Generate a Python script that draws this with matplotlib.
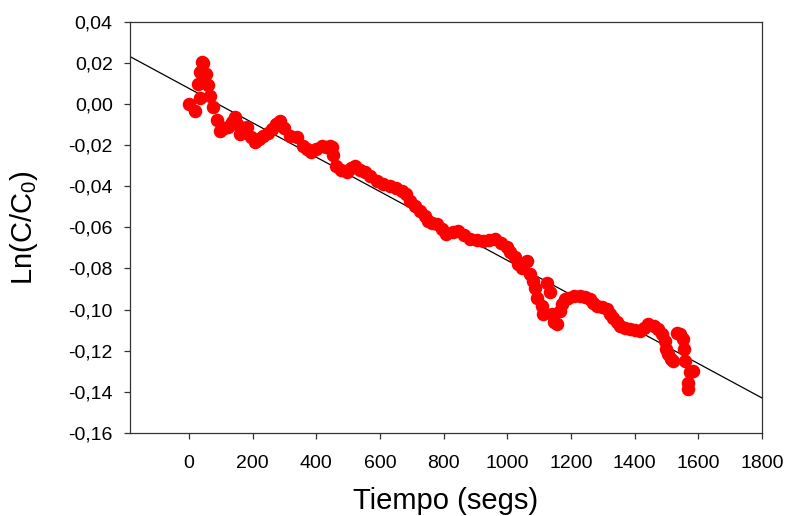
import matplotlib
matplotlib.use("Agg")
import matplotlib.pyplot as plt
from matplotlib.ticker import FuncFormatter, MultipleLocator
import numpy as np

plt.rcParams['font.family'] = ['Liberation Sans', 'DejaVu Sans']
plt.rcParams['mathtext.fontset'] = 'custom'
plt.rcParams['mathtext.rm'] = 'Liberation Sans'
plt.rcParams['mathtext.it'] = 'Liberation Sans'

# datos: tiempo (s) y Ln(C/C0)
tiempo = [0, 19, 29, 35, 35, 40, 45, 55, 60, 66, 76, 87, 97, 110, 124, 135, 145,
          152, 160, 170, 181, 195, 207, 220, 234, 248, 260, 273, 286, 300, 317,
          338, 359, 372, 385, 400, 417, 430, 442, 448, 453, 463, 478, 495, 510,
          522, 538, 553, 570, 590, 610, 631, 650, 668, 682, 694, 710, 726, 740,
          752, 765, 778, 795, 809, 828, 846, 865, 883, 904, 925, 943, 961, 980,
          998, 1010, 1024, 1035, 1045, 1061, 1071, 1082, 1087, 1092, 1108, 1113,
          1124, 1134, 1139, 1147, 1155, 1166, 1171, 1180, 1192, 1210, 1228, 1245,
          1260, 1270, 1281, 1296, 1312, 1323, 1333, 1344, 1354, 1370, 1385, 1400,
          1417, 1430, 1443, 1460, 1474, 1485, 1495, 1500, 1506, 1515, 1521, 1532,
          1543, 1553, 1555, 1558, 1574, 1583, 1569, 1569]
ln_c = [0.000, -0.0036, 0.0097, 0.003, 0.0153, 0.0205, 0.020, 0.0145, 0.009,
        0.004, -0.0017, -0.008, -0.013, -0.012, -0.0114, -0.009, -0.0066,
        -0.010, -0.0146, -0.012, -0.0114, -0.016, -0.0187, -0.017, -0.0155,
        -0.014, -0.0122, -0.010, -0.0082, -0.012, -0.0155, -0.0163, -0.0203,
        -0.022, -0.0236, -0.022, -0.0203, -0.021, -0.0203, -0.0212, -0.025,
        -0.030, -0.032, -0.033, -0.031, -0.030, -0.032, -0.0333, -0.035,
        -0.0374, -0.039, -0.0398, -0.041, -0.0422, -0.044, -0.047, -0.0495,
        -0.052, -0.0545, -0.0568, -0.058, -0.0584, -0.061, -0.0633, -0.0625,
        -0.0617, -0.064, -0.0657, -0.066, -0.0666, -0.066, -0.0657, -0.0675,
        -0.0698, -0.072, -0.0747, -0.078, -0.0796, -0.0763, -0.0828, -0.086,
        -0.0893, -0.0942, -0.0982, -0.1022, -0.0869, -0.0917, -0.1022, -0.106,
        -0.1071, -0.1006, -0.0974, -0.095, -0.0942, -0.0933, -0.0933, -0.094,
        -0.095, -0.097, -0.0982, -0.099, -0.0998, -0.102, -0.1039, -0.106,
        -0.1079, -0.109, -0.1095, -0.110, -0.1104, -0.109, -0.1071, -0.108,
        -0.1095, -0.112, -0.1152, -0.119, -0.1217, -0.124, -0.125, -0.1112,
        -0.112, -0.1144, -0.1193, -0.125, -0.1306, -0.130, -0.1355, -0.1387]

# recta de regresion
pendiente = -8.36e-5
ordenada = 0.0075

fig = plt.figure(figsize=(7.87, 5.16), dpi=100)
ax = fig.add_axes([0.1652, 0.1609, 0.8030, 0.7974])

xr = np.array([-185, 1800])
ax.plot(xr, pendiente * xr + ordenada, color='black', lw=0.9, zorder=2)
ax.scatter(tiempo, ln_c, s=95, color='#ff0000', edgecolors='#ff0000',
           linewidths=0, zorder=3)

ax.set_xlim(-185, 1800)
ax.set_ylim(-0.16, 0.04)
ax.set_xticks(np.arange(0, 1801, 200))
ax.yaxis.set_major_locator(MultipleLocator(0.02))

def coma(v, pos):
    s = f"{v:.2f}".replace('.', ',')
    if s == "-0,00":
        s = "0,00"
    return s

ax.yaxis.set_major_formatter(FuncFormatter(coma))
ax.tick_params(direction='out', length=4.5, width=0.9, labelsize=14, color='#333333')
ax.tick_params(axis='x', pad=11)
ax.tick_params(axis='y', pad=8)
for sp in ax.spines.values():
    sp.set_linewidth(0.9)
    sp.set_color('#333333')

ax.set_xlabel('Tiempo (segs)', fontsize=21, labelpad=11)
ax.set_ylabel('Ln(C/C$_0$)', fontsize=21, labelpad=20)

fig.savefig('out.png', dpi=100)
